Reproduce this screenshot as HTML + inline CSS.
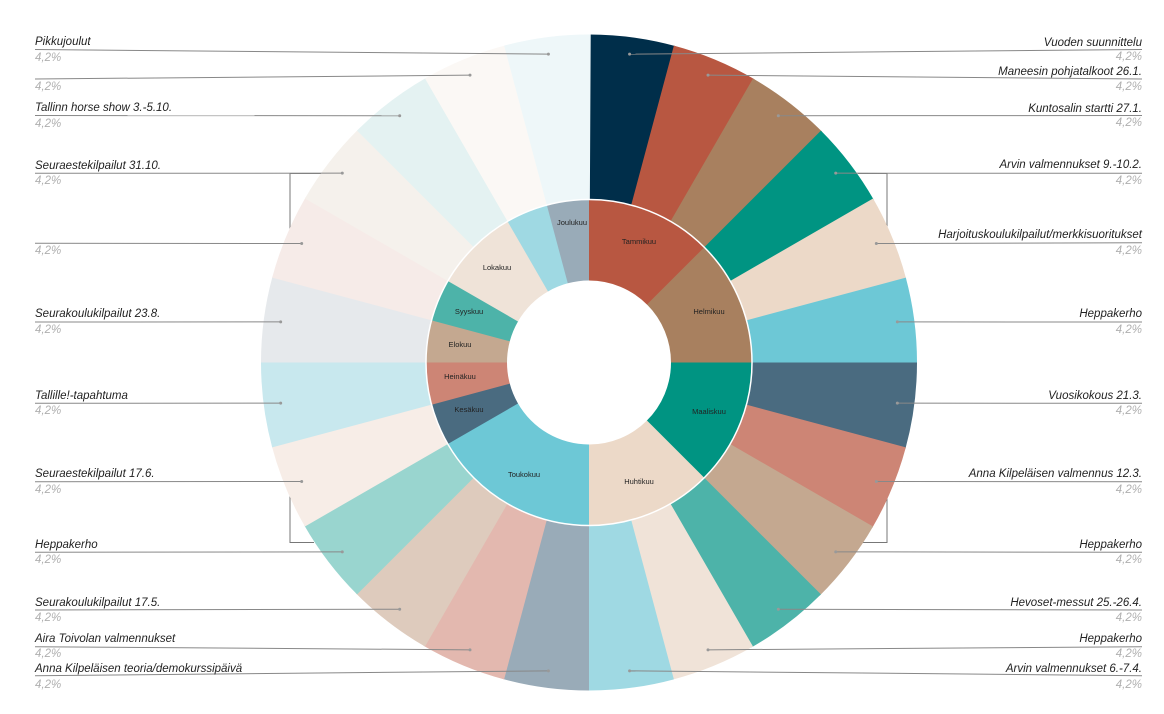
<!DOCTYPE html>
<html><head><meta charset="utf-8"><style>
html,body{margin:0;padding:0;background:#fff;}
svg{display:block;}
.l{font-family:"Liberation Sans",sans-serif;font-size:11.5px;font-style:italic;fill:#222;}
.p{font-family:"Liberation Sans",sans-serif;font-size:11.5px;font-style:italic;fill:#b0b0b0;}
.m{font-family:"Liberation Sans",sans-serif;font-size:7.5px;fill:#222;text-anchor:middle;dominant-baseline:middle;}
</style></head><body>
<svg id="s" width="1164" height="714" viewBox="0 0 1164 714" xmlns="http://www.w3.org/2000/svg">
<g id="under" stroke="#777" stroke-width="1" fill="none">
<polyline points="321,173.5 290,173.5 290,542.5 314,542.5"/>
<polyline points="858,173.5 887,173.5 887,542.5 862,542.5"/>
</g>
<g id="outer"></g>
<g id="inner"></g>
<circle cx="589" cy="362.5" r="163" fill="none" stroke="#fff" stroke-width="1.5"/>
<g id="lines" stroke="#888" stroke-width="1" fill="none"></g>
<g id="dots" fill="#999"></g>
<g>
<text class="m" x="639" y="242">Tammikuu</text>
<text class="m" x="709" y="312">Helmikuu</text>
<text class="m" x="709" y="412">Maaliskuu</text>
<text class="m" x="639" y="482">Huhtikuu</text>
<text class="m" x="524" y="475">Toukokuu</text>
<text class="m" x="469" y="410">Kesäkuu</text>
<text class="m" x="460" y="377">Heinäkuu</text>
<text class="m" x="460" y="345">Elokuu</text>
<text class="m" x="469" y="312">Syyskuu</text>
<text class="m" x="497" y="268">Lokakuu</text>
<text class="m" x="572" y="223">Joulukuu</text>
</g>
<g>
<text class="l" x="35" y="45">Pikkujoulut</text><text class="p" x="35" y="61">4,2%</text>
<text class="p" x="35" y="90">4,2%</text>
<text class="l" x="35" y="111">Tallinn horse show 3.-5.10.</text><text class="p" x="35" y="127">4,2%</text>
<text class="l" x="35" y="169">Seuraestekilpailut 31.10.</text><text class="p" x="35" y="184">4,2%</text>
<text class="p" x="35" y="254">4,2%</text>
<text class="l" x="35" y="317">Seurakoulukilpailut 23.8.</text><text class="p" x="35" y="333">4,2%</text>
<text class="l" x="35" y="399">Tallille!-tapahtuma</text><text class="p" x="35" y="414">4,2%</text>
<text class="l" x="35" y="477">Seuraestekilpailut 17.6.</text><text class="p" x="35" y="493">4,2%</text>
<text class="l" x="35" y="548">Heppakerho</text><text class="p" x="35" y="563">4,2%</text>
<text class="l" x="35" y="606">Seurakoulukilpailut 17.5.</text><text class="p" x="35" y="621">4,2%</text>
<text class="l" x="35" y="642">Aira Toivolan valmennukset</text><text class="p" x="35" y="657">4,2%</text>
<text class="l" x="35" y="672">Anna Kilpeläisen teoria/demokurssipäivä</text><text class="p" x="35" y="688">4,2%</text>
</g>
<g text-anchor="end">
<text class="l" x="1142" y="46">Vuoden suunnittelu</text><text class="p" x="1142" y="60">4,2%</text>
<text class="l" x="1142" y="75">Maneesin pohjatalkoot 26.1.</text><text class="p" x="1142" y="90">4,2%</text>
<text class="l" x="1142" y="112">Kuntosalin startti 27.1.</text><text class="p" x="1142" y="126">4,2%</text>
<text class="l" x="1142" y="168">Arvin valmennukset 9.-10.2.</text><text class="p" x="1142" y="184">4,2%</text>
<text class="l" x="1142" y="238">Harjoituskoulukilpailut/merkkisuoritukset</text><text class="p" x="1142" y="254">4,2%</text>
<text class="l" x="1142" y="317">Heppakerho</text><text class="p" x="1142" y="333">4,2%</text>
<text class="l" x="1142" y="399">Vuosikokous 21.3.</text><text class="p" x="1142" y="414">4,2%</text>
<text class="l" x="1142" y="477">Anna Kilpeläisen valmennus 12.3.</text><text class="p" x="1142" y="493">4,2%</text>
<text class="l" x="1142" y="548">Heppakerho</text><text class="p" x="1142" y="563">4,2%</text>
<text class="l" x="1142" y="606">Hevoset-messut 25.-26.4.</text><text class="p" x="1142" y="621">4,2%</text>
<text class="l" x="1142" y="642">Heppakerho</text><text class="p" x="1142" y="657">4,2%</text>
<text class="l" x="1142" y="672">Arvin valmennukset 6.-7.4.</text><text class="p" x="1142" y="688">4,2%</text>
</g>
</svg>
<script>
(function(){
var NS="http://www.w3.org/2000/svg",cx=589,cy=362.5;
function pt(r,a){a=a*Math.PI/180;return [cx+r*Math.sin(a),cy-r*Math.cos(a)];}
function arc(r0,r1,a0,a1){var p1=pt(r1,a0),p2=pt(r1,a1),p3=pt(r0,a1),p4=pt(r0,a0),lg=(a1-a0)>180?1:0;
return "M"+p1+"A"+r1+","+r1+" 0 "+lg+" 1 "+p2+"L"+p3+"A"+r0+","+r0+" 0 "+lg+" 0 "+p4+"Z";}
function add(g,d,f){var e=document.createElementNS(NS,"path");e.setAttribute("d",d);e.setAttribute("fill",f);document.getElementById(g).appendChild(e);}
var oc=["#002e4a","#b85741","#a8805f","#009482","#ecd9c8","#6dc8d6","#4a6b80","#cd8575","#c4a890","#4db3a9","#f0e3d8","#9fd9e3","#99abb8","#e3b8af","#decbbd","#99d5cf","#f7ede7","#c8e8ee","#e6e9ec","#f6ebe8","#f5f1ec","#e4f2f2","#fbf8f5","#eef7f9"];
for(var i=0;i<24;i++)add("outer",arc(160,328,i*15,(i+1)*15+0.3),oc[i]);
var ic=[["#b85741",0,45],["#a8805f",45,90],["#009482",90,135],["#ecd9c8",135,180],["#6dc8d6",180,240],["#4a6b80",240,255],["#cd8575",255,270],["#c4a890",270,285],["#4db3a9",285,300],["#efe3d8",300,330],["#9fd9e3",330,345],["#99abb8",345,360]];
ic.forEach(function(c){add("inner",arc(82,163,c[1],c[2]+(c[2]<360?0.3:0)),c[0]);});
var ly=[675.7,646.7,610,552.3,481.7,403.3,322,243.3,173.3,115.5,79,49.5];
var ry=[49.5,79,115.5,173.3,242.7,322,403.3,481.7,552.3,610,646.7,675.7];
var lines=document.getElementById("lines"),dots=document.getElementById("dots");
function ln(x1,y1,x2,y2){var e=document.createElementNS(NS,"line");e.setAttribute("x1",x1);e.setAttribute("y1",y1);e.setAttribute("x2",x2);e.setAttribute("y2",y2);lines.appendChild(e);
var c=document.createElementNS(NS,"circle");c.setAttribute("cx",x2);c.setAttribute("cy",y2);c.setAttribute("r",1.5);dots.appendChild(c);}
for(var k=0;k<12;k++){
 var a=180+7.5+k*15,p=pt(311,a);ln(35,ly[k],p[0],p[1]);
 var b=7.5+k*15,q=pt(311,b);ln(1142,ry[k],q[0],q[1]);
}
})();
</script>
</body></html>
